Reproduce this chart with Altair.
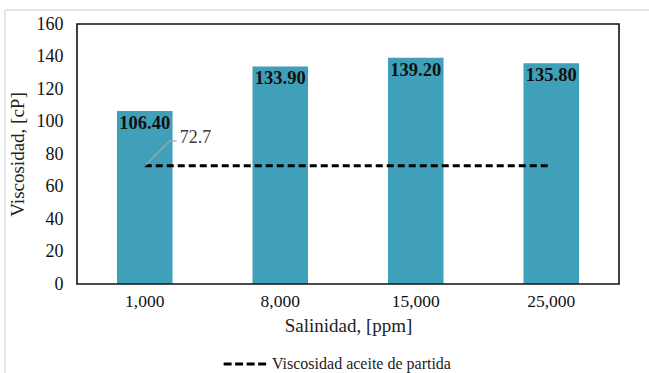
import altair as alt
import pandas as pd

# Salinity levels and measured viscosity
salinidad = ["1,000", "8,000", "15,000", "25,000"]
viscosidad = [106.40, 133.90, 139.20, 135.80]
visc_partida = 72.7
nota_y = 88.0
serie_linea = "Viscosidad aceite de partida"

bars_df = pd.DataFrame({"sal": salinidad, "visc": viscosidad})
line_df = pd.DataFrame({"sal": salinidad, "visc": [visc_partida] * len(salinidad), "serie": serie_linea})
note_df = pd.DataFrame({"sal": [salinidad[0]], "visc": [visc_partida], "y1": [nota_y], "lbl": [f"{visc_partida}"]})

FONT = "Liberation Serif"
W, H = 542, 260

x_axis = alt.Axis(title="Salinidad, [ppm]", labelAngle=0, ticks=False,
                  labelPadding=8, titlePadding=7, labelFontSize=17.5,
                  titleFontSize=19, domain=False, grid=False,
                  labelFont=FONT, titleFont=FONT, labelColor="#111111",
                  titleColor="#222222", titleFontWeight="normal")
x_scale = alt.Scale(paddingInner=0.59, paddingOuter=0.295)
y_axis = alt.Axis(title="Viscosidad, [cP]", values=list(range(0, 161, 20)),
                  ticks=False, domain=False, grid=False, labelPadding=14,
                  labelFontSize=18, titleFontSize=19, titlePadding=9,
                  labelOverlap=False, labelFont=FONT, titleFont=FONT,
                  labelColor="#111111", titleColor="#222222",
                  titleFontWeight="normal")
y_scale = alt.Scale(domain=[0, 160], nice=False)


def xe():
    return alt.X("sal:N", sort=salinidad, scale=x_scale, axis=x_axis)


def ye(field="visc"):
    return alt.Y(f"{field}:Q", scale=y_scale, axis=y_axis)


bars = alt.Chart(bars_df).mark_bar(color="#40A0BA").encode(x=xe(), y=ye())

labels = alt.Chart(bars_df).mark_text(
    baseline="top", dy=3, fontWeight="bold", fontSize=18.5, font=FONT, color="#111111"
).encode(x=xe(), y=ye(), text=alt.Text("visc:Q", format=".2f"))

line = alt.Chart(line_df).mark_line(strokeDash=[7, 4], strokeWidth=3).encode(
    x=xe(),
    y=ye(),
    stroke=alt.Stroke("serie:N", scale=alt.Scale(range=["#000000"]),
                      legend=alt.Legend(title=None, orient="none", legendX=145, legendY=316,
                                        symbolType="stroke", symbolStrokeWidth=3,
                                        symbolDash=[8, 3.5], symbolSize=2000,
                                        labelOffset=2, labelLimit=400,
                                        labelFont=FONT, labelFontSize=16, labelColor="#222222")),
)

leader = alt.Chart(note_df).mark_rule(color="#a6a6a6", strokeWidth=1.2, x2Offset=25).encode(
    x=xe(), x2="sal:N", y=ye(), y2="y1:Q")
leader_tail = alt.Chart(note_df).mark_rule(color="#a6a6a6", strokeWidth=1.2, xOffset=25, x2Offset=32).encode(
    x=xe(), x2="sal:N", y=ye("y1"), y2="y1:Q")
note = alt.Chart(note_df).mark_text(align="left", baseline="middle", dx=35, dy=-3,
                                    fontSize=18, font=FONT, color="#3a3a3a").encode(
    x=xe(), y=ye("y1"), text="lbl:N")

# plot-area border and light outer frame of the figure
plot_border = alt.Chart(note_df).mark_rect(fill=None, stroke="#111111", strokeWidth=1.6).encode(
    x=alt.value(0), x2=alt.value(W), y=alt.value(0), y2=alt.value(H))
frame_top = alt.Chart(note_df).mark_rule(color="#dcdcdc", strokeWidth=1.5).encode(
    x=alt.value(-72), x2=alt.value(575), y=alt.value(-14))
frame_left = alt.Chart(note_df).mark_rule(color="#dcdcdc", strokeWidth=1.5).encode(
    x=alt.value(-72), y=alt.value(-14), y2=alt.value(352))

chart = alt.layer(frame_top, frame_left, bars, line, labels, leader, leader_tail, note,
                  plot_border).properties(
    width=W, height=H,
    autosize=alt.AutoSizeParams(type="none"),
    padding={"left": 77, "top": 24, "right": 30, "bottom": 89},
    background="white",
).configure_view(stroke=None)

chart.save("out.html", embed_options={"renderer": "svg", "actions": False})
